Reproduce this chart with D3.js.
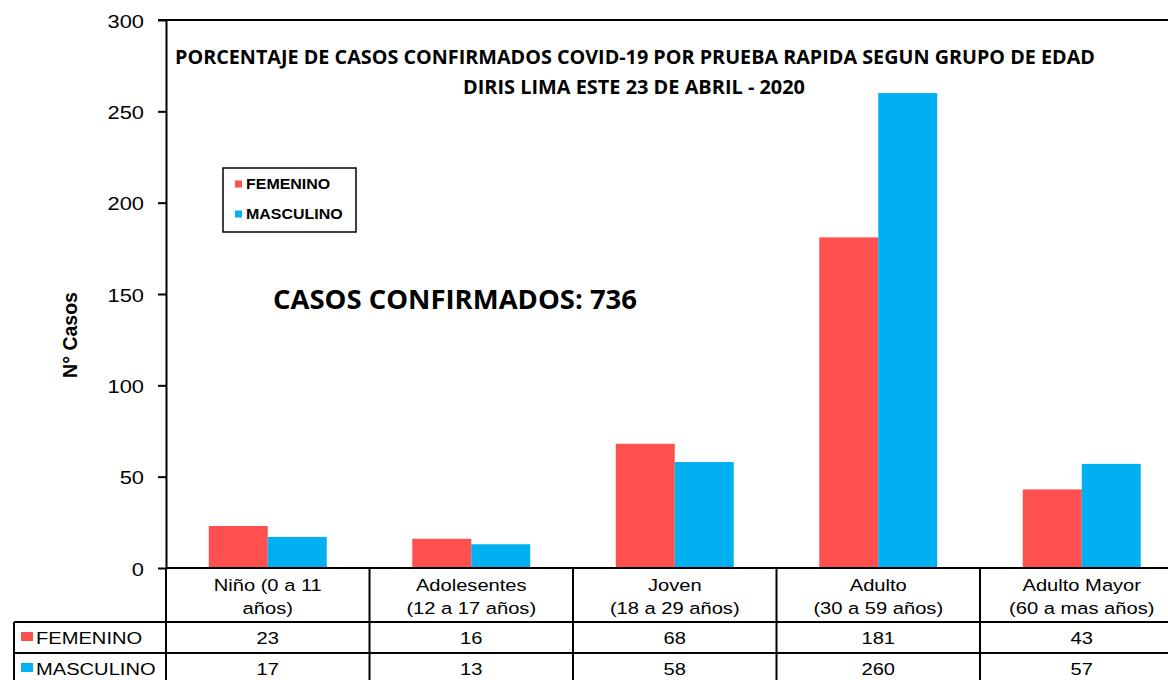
<!DOCTYPE html>
<html>
<head>
<meta charset="utf-8">
<script src="https://cdn.jsdelivr.net/npm/d3@7"></script>
<style>
  html, body { margin: 0; padding: 0; background: #fff; overflow: hidden; }
  svg { display: block; }
</style>
</head>
<body>
<svg id="chart" width="1168" height="680"></svg>
<script>
const categories = ['Niño (0 a 11|años)', 'Adolesentes|(12 a 17 años)', 'Joven|(18 a 29 años)', 'Adulto|(30 a 59 años)', 'Adulto Mayor|(60 a mas años)'];
const series = ['FEMENINO', 'MASCULINO'];
const femenino = [23, 16, 68, 181, 43];
const masculino = [17, 13, 58, 260, 57];
const yTicks = [0, 50, 100, 150, 200, 250, 300];
const colors = ['#FF5050', '#00B0F0'];
const titleLines = ['PORCENTAJE DE CASOS CONFIRMADOS COVID-19 POR PRUEBA RAPIDA SEGUN GRUPO DE EDAD', 'DIRIS LIMA ESTE  23 DE ABRIL - 2020'];
const totalLabel = 'CASOS CONFIRMADOS: 736';
const yLabel = 'N° Casos';

const values = [femenino, masculino];
const svg = d3.select('#chart');

const plotLeft = 166, plotRight = 1183.5, plotTop = 20, plotBottom = 568;
const rowTop = 622, rowMid = 653, rowBot = 684;

const x0 = d3.scaleBand().domain(categories).range([plotLeft, plotRight]).padding(0);
const x1 = d3.scaleBand().domain(series).range([0, x0.bandwidth()])
  .paddingInner(0).paddingOuter(0.725);
const y = d3.scaleLinear().domain([0, 300]).range([plotBottom, plotTop]);

// stretched text helper (the original picture is widened horizontally)
function stext(g, x, yy, str, size, sx, anchor, weight) {
  return g.append('text')
    .attr('transform', `translate(${x},${yy}) scale(${sx},1)`)
    .attr('text-anchor', anchor || 'middle')
    .style('font-family', 'Arial, "Liberation Sans", sans-serif')
    .style('font-size', size + 'px')
    .style('font-weight', weight || 'normal')
    .attr('fill', '#000')
    .text(str);
}

// bars
const groups = svg.append('g').selectAll('g')
  .data(categories)
  .join('g')
  .attr('transform', d => `translate(${x0(d)},0)`);

groups.selectAll('rect')
  .data((d, i) => series.map((s, j) => ({ s: s, v: values[j][i], c: colors[j] })))
  .join('rect')
  .attr('x', d => x1(d.s))
  .attr('y', d => y(d.v))
  .attr('width', x1.bandwidth())
  .attr('height', d => y(0) - y(d.v))
  .attr('fill', d => d.c);

// y axis
const yAxis = svg.append('g')
  .attr('transform', `translate(${plotLeft},0)`)
  .call(d3.axisLeft(y).tickValues(yTicks).tickSize(8).tickSizeOuter(0));
yAxis.select('.domain').attr('stroke', '#000').attr('stroke-width', 2);
yAxis.selectAll('.tick line').attr('stroke', '#000').attr('stroke-width', 2);
yAxis.selectAll('.tick text')
  .attr('x', null).attr('dy', null)
  .attr('transform', 'translate(-22,7) scale(1.15,1)')
  .style('font-family', 'Arial, "Liberation Sans", sans-serif')
  .style('font-size', '19px')
  .attr('fill', '#000');

// top border of the plot area
svg.append('line')
  .attr('x1', plotLeft - 8).attr('x2', 1168)
  .attr('y1', y(300)).attr('y2', y(300))
  .attr('stroke', '#000').attr('stroke-width', 2);

// data table
const grid = svg.append('g').attr('stroke', '#000').attr('stroke-width', 2);
grid.append('line').attr('x1', plotLeft).attr('x2', 1168).attr('y1', plotBottom).attr('y2', plotBottom);
grid.append('line').attr('x1', 14).attr('x2', 1168).attr('y1', rowTop).attr('y2', rowTop);
grid.append('line').attr('x1', 14).attr('x2', 1168).attr('y1', rowMid).attr('y2', rowMid);
grid.append('line').attr('x1', 14).attr('x2', 14).attr('y1', rowTop).attr('y2', rowBot);
categories.forEach(c => {
  grid.append('line').attr('x1', x0(c)).attr('x2', x0(c)).attr('y1', plotBottom).attr('y2', rowBot);
});
grid.append('line').attr('x1', plotRight).attr('x2', plotRight).attr('y1', plotBottom).attr('y2', rowBot);

const tableText = svg.append('g');
categories.forEach((c, i) => {
  const cx = x0(c) + x0.bandwidth() / 2;
  const parts = c.split('|');
  stext(tableText, cx, 591, parts[0], 16.5, 1.22);
  stext(tableText, cx, 614, parts[1], 16.5, 1.22);
  stext(tableText, cx, 644, femenino[i], 16.5, 1.22);
  stext(tableText, cx, 675, masculino[i], 16.5, 1.22);
});
series.forEach((s, j) => {
  const ry = j === 0 ? 632 : 663;
  tableText.append('rect')
    .attr('x', 21).attr('y', ry).attr('width', 12).attr('height', 9)
    .attr('fill', colors[j]);
  stext(tableText, 36, j === 0 ? 644 : 675, s, 16.5, 1.22, 'start');
});

// legend
const legend = svg.append('g');
legend.append('rect')
  .attr('x', 223).attr('y', 168).attr('width', 133).attr('height', 64)
  .attr('fill', '#fff').attr('stroke', '#000').attr('stroke-width', 1.5);
series.forEach((s, j) => {
  const cy = 184 + j * 30;
  legend.append('rect')
    .attr('x', 235).attr('y', cy - 3.5).attr('width', 7).attr('height', 7)
    .attr('fill', colors[j]);
  stext(legend, 246, cy + 5, s, 14, 1.14, 'start', 'bold');
});

// titles
const ttl = svg.append('g')
  .style('font-family', '"Open Sans", "Noto Sans", sans-serif')
  .style('font-weight', 'bold')
  .style('white-space', 'pre')
  .attr('fill', '#000');
ttl.append('text')
  .attr('x', 175).attr('y', 64)
  .attr('textLength', 920).attr('lengthAdjust', 'spacingAndGlyphs')
  .style('font-size', '19px')
  .text(titleLines[0]);
ttl.append('text')
  .attr('x', 463).attr('y', 94)
  .attr('textLength', 342).attr('lengthAdjust', 'spacingAndGlyphs')
  .style('font-size', '19px')
  .text(titleLines[1]);
ttl.append('text')
  .attr('x', 273).attr('y', 309)
  .attr('textLength', 364).attr('lengthAdjust', 'spacingAndGlyphs')
  .style('font-size', '27px')
  .text(totalLabel);

// y axis title
svg.append('text')
  .attr('transform', 'translate(77,335) rotate(-90)')
  .attr('text-anchor', 'middle')
  .style('font-family', 'Arial, "Liberation Sans", sans-serif')
  .style('font-size', '19.5px')
  .style('font-weight', 'bold')
  .attr('fill', '#000')
  .text(yLabel);
</script>
</body>
</html>
